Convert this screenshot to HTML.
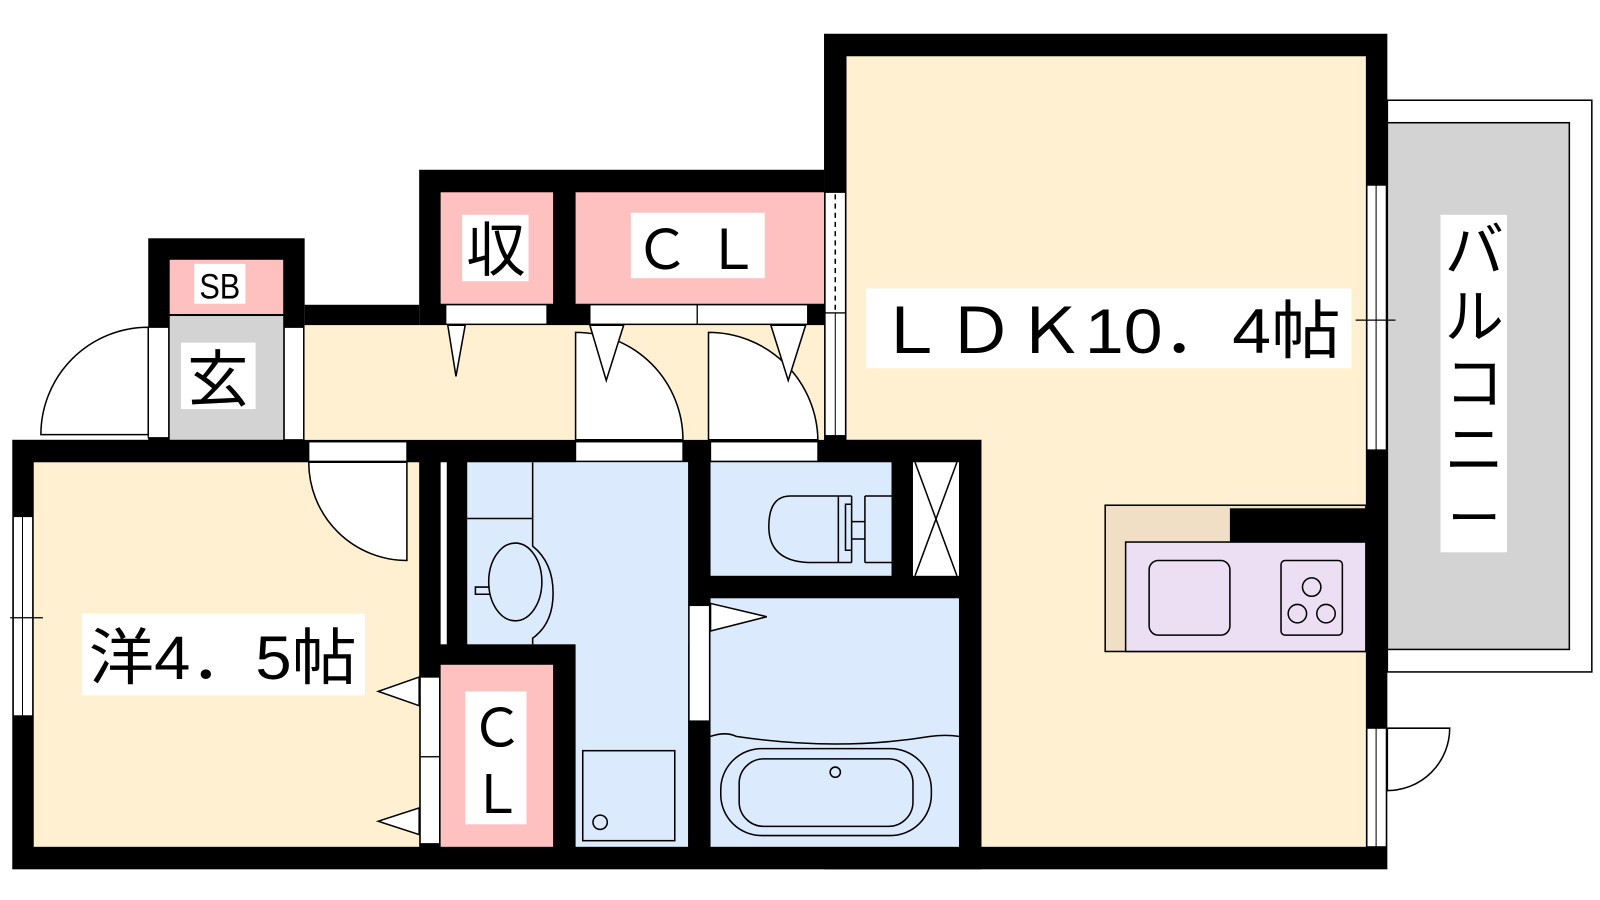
<!DOCTYPE html>
<html><head><meta charset="utf-8"><style>
html,body{margin:0;padding:0;background:#fff;}
svg{display:block;}
text{font-family:"Liberation Sans","Noto Sans CJK JP",sans-serif;fill:#000;}
</style></head><body>
<svg width="1600" height="900" viewBox="0 0 1565 880" preserveAspectRatio="none" xmlns="http://www.w3.org/2000/svg">
<!-- balcony -->
<rect x="1357" y="98" width="200" height="559" fill="#fff" stroke="#000" stroke-width="1.5"/>
<rect x="1357" y="120" width="178" height="515" fill="#d3d3d3" stroke="#000" stroke-width="1.5"/>
<!-- floors -->
<rect x="806" y="33" width="551" height="817" fill="#000"/>
<rect x="828" y="55" width="508" height="773" fill="#fef0d0"/>
<rect x="410" y="166" width="396" height="152" fill="#000"/>
<rect x="145" y="233" width="153" height="200" fill="#000"/>
<rect x="298" y="298" width="112" height="20" fill="#000"/>
<rect x="12" y="430" width="948" height="420" fill="#000"/>
<rect x="298" y="318" width="508" height="112" fill="#fef0d0"/>
<rect x="166" y="254" width="111" height="53" fill="#ffc0c0"/>
<rect x="166" y="309" width="111" height="121" fill="#d3d3d3"/>
<rect x="431" y="188" width="110" height="109" fill="#ffc0c0"/>
<rect x="563" y="188" width="243" height="109" fill="#ffc0c0"/>
<rect x="33" y="452" width="377" height="376" fill="#fef0d0"/>
<rect x="431" y="650" width="110" height="178" fill="#ffc0c0"/>
<rect x="457" y="452" width="216" height="178" fill="#dbeafc"/>
<rect x="563" y="452" width="110" height="376" fill="#dbeafc"/>
<rect x="695" y="452" width="177" height="111" fill="#dbeafc"/>
<rect x="893" y="452" width="45" height="111" fill="#fff"/>
<line x1="895" y1="452" x2="936" y2="563" stroke="#000" stroke-width="1.5"/>
<line x1="936" y1="452" x2="895" y2="563" stroke="#000" stroke-width="1.5"/>
<rect x="695" y="585" width="243" height="243" fill="#dbeafc"/>
<rect x="431" y="452" width="6" height="178" fill="#fff"/>
<!-- openings / frames (white with outline) -->
<g fill="#fff" stroke="#000" stroke-width="1.2">
<rect x="145" y="320" width="20" height="108"/>
<rect x="278" y="320" width="19" height="110"/>
<rect x="302" y="432" width="96" height="19"/>
<rect x="563" y="432" width="105" height="19"/>
<rect x="695" y="432" width="105" height="19"/>
<rect x="436" y="298" width="99" height="19"/>
<rect x="577" y="298" width="105" height="19"/>
<rect x="682" y="298" width="108" height="19"/>
<rect x="807" y="188" width="20" height="118"/>
<rect x="807" y="306" width="20" height="120"/>
<rect x="1337" y="181" width="19" height="259"/>
<rect x="13" y="505" width="19" height="195"/>
<rect x="411" y="662" width="19" height="78"/>
<rect x="411" y="740" width="19" height="85"/>
<rect x="674" y="592" width="20" height="113"/>
<rect x="1337" y="712" width="19" height="116"/>
</g>
<line x1="817" y1="190" x2="817" y2="304" stroke="#000" stroke-width="1.5" stroke-dasharray="5,4"/>
<line x1="817" y1="306" x2="817" y2="426" stroke="#000" stroke-width="1"/>
<line x1="1346" y1="181" x2="1346" y2="440" stroke="#000" stroke-width="1"/>
<line x1="22" y1="505" x2="22" y2="700" stroke="#000" stroke-width="1"/>
<line x1="1326" y1="313" x2="1365" y2="313" stroke="#000" stroke-width="1.2"/>
<line x1="10" y1="604" x2="42" y2="604" stroke="#000" stroke-width="1.2"/>
<line x1="1346" y1="712" x2="1346" y2="828" stroke="#000" stroke-width="1"/>
<!-- doors -->
<g fill="#fff" stroke="#000" stroke-width="1.5">
<path d="M145,320 A105,105 0 0 0 40,425 L145,425 Z"/>
<path d="M302,452 A96,96 0 0 0 398,548 L398,452 Z"/>
<path d="M563,325 A105,105 0 0 1 668,430 L563,430 Z"/>
<path d="M693,325 A107,107 0 0 1 800,430 L693,430 Z"/>
<path d="M1418,712 A61,61 0 0 1 1357,773 L1357,712 Z"/>
<path d="M438,318 L455,318 L446,368 Z"/>
<path d="M577,318 L610,318 L593,372 Z"/>
<path d="M754,318 L788,318 L771,372 Z"/>
<path d="M410,662 L410,690 L370,676 Z"/>
<path d="M410,790 L410,816 L370,803 Z"/>
<path d="M695,590 L695,617 L750,603 Z"/>
</g>
<!-- kitchen -->
<rect x="1081" y="494" width="255" height="143" fill="#f0dfc4" stroke="#000" stroke-width="1.5"/>
<rect x="1101" y="530" width="235" height="107" fill="#ecdff4" stroke="#000" stroke-width="1.5"/>
<rect x="1203" y="497" width="133" height="33" fill="#000"/>
<rect x="1124" y="548" width="79" height="73" rx="9" fill="none" stroke="#000" stroke-width="1.5"/>
<rect x="1253" y="548" width="60" height="73" rx="4" fill="none" stroke="#000" stroke-width="1.5"/>
<g fill="none" stroke="#000" stroke-width="1.5">
<circle cx="1283" cy="574" r="9"/><circle cx="1269" cy="600" r="9"/><circle cx="1297" cy="600" r="9"/>
</g>
<!-- washroom fixtures -->
<g fill="none" stroke="#000" stroke-width="1.5">
<path d="M457,507 L521,507 L521,452 M521,507 L521,534 Q541,550 541,580 Q541,610 521,624 L521,630"/>
<ellipse cx="504" cy="569" rx="26" ry="38"/>
<path d="M479,574 L465,574 L465,581 L479,581"/>
<rect x="570" y="734" width="90" height="88"/>
<circle cx="587" cy="804" r="7"/>
<path d="M820,485 L773,485 Q752,485 752,515 Q752,548 790,550 L820,550"/>
<path d="M820,485 L820,550 M833,485 L833,550 M820,485 L833,485 M820,550 L833,550 M833,493 L827,493 L827,538 L833,538 M846,485 L846,550 M846,485 L872,485 M846,550 L872,550 M833,510 L846,510 M833,527 L846,527"/>
<path d="M695,720 Q710,715 720,720 Q820,735 910,720 Q925,718 938,720"/>
<rect x="705" y="732" width="206" height="85" rx="40"/>
<rect x="723" y="742" width="170" height="66" rx="24"/>
<circle cx="817" cy="755" r="5"/>
</g>
<!-- labels -->
<rect x="847" y="282" width="475" height="78" fill="#fff"/>
<text x="1084" y="345" font-size="62" text-anchor="middle" textLength="455" lengthAdjust="spacingAndGlyphs">ＬＤＫ10．4帖</text>
<rect x="80" y="600" width="277" height="80" fill="#fff"/>
<text x="218" y="664" font-size="60" text-anchor="middle" textLength="262" lengthAdjust="spacingAndGlyphs">洋4．5帖</text>
<rect x="1409" y="210" width="65" height="330" fill="#fff"/>
<g font-size="58" text-anchor="middle">
<text x="1442" y="265">バ</text><text x="1442" y="330">ル</text><text x="1442" y="395">コ</text><text x="1442" y="460">ニ</text><text x="1442" y="525" font-size="52">ー</text>
</g>
<rect x="617" y="208" width="131" height="64" fill="#fff"/>
<text x="682" y="263" font-size="54" text-anchor="middle">Ｃ Ｌ</text>
<rect x="452" y="210" width="65" height="65" fill="#fff"/>
<text x="485" y="265" font-size="58" text-anchor="middle">収</text>
<rect x="190" y="258" width="50" height="39" fill="#fff"/>
<text x="215" y="292" font-size="34" text-anchor="middle" textLength="40" lengthAdjust="spacingAndGlyphs">SB</text>
<rect x="177" y="335" width="73" height="65" fill="#fff"/>
<text x="213" y="392" font-size="60" text-anchor="middle">玄</text>
<rect x="455" y="676" width="60" height="130" fill="#fff"/>
<text x="486" y="730" font-size="52" text-anchor="middle">Ｃ</text>
<text x="486" y="795" font-size="52" text-anchor="middle">Ｌ</text>
</svg>
</body></html>
